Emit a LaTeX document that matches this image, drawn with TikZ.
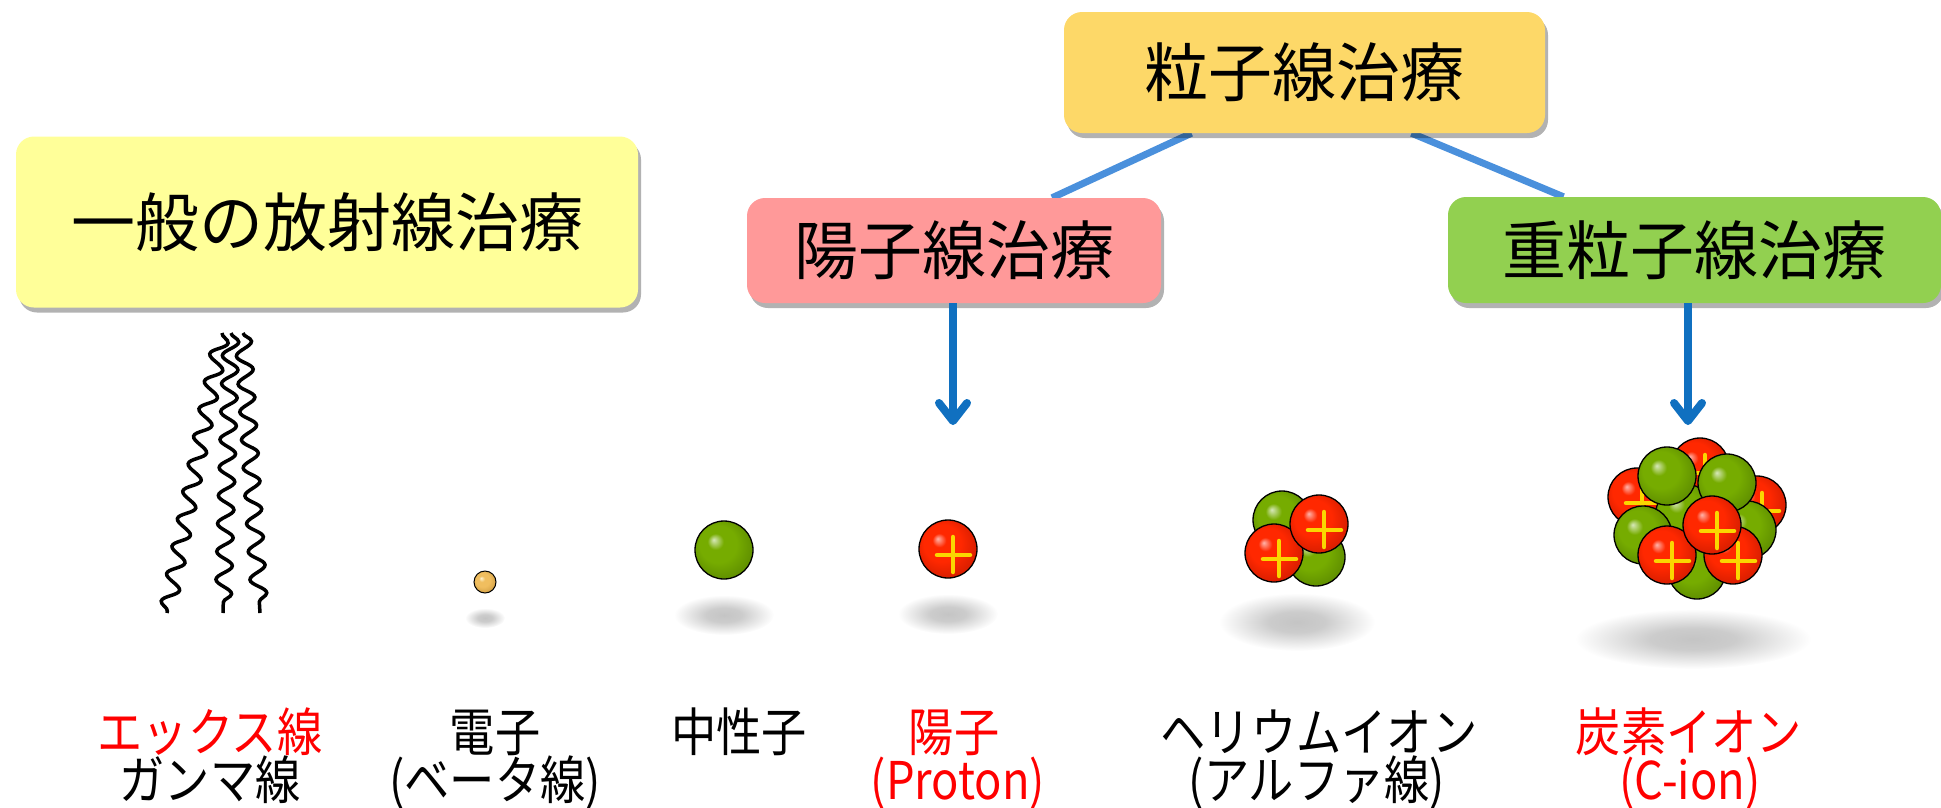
\documentclass[tikz,border=0pt]{standalone}
\usepackage{fontspec}
\newfontfamily\jpfont{Noto Sans CJK JP}
\newfontfamily\jplabel[FakeStretch=0.87]{Noto Sans CJK JP}
\usetikzlibrary{arrows.meta,shadows,backgrounds,decorations.pathmorphing}

\definecolor{plainyellow}{RGB}{255,255,153}
\definecolor{topgold}{RGB}{253,216,104}
\definecolor{protonpink}{RGB}{255,153,153}
\definecolor{heavygreen}{RGB}{146,208,80}
\definecolor{linkblue}{RGB}{74,144,220}
\definecolor{arrowblue}{RGB}{16,112,192}
\definecolor{labelred}{RGB}{255,0,0}
\definecolor{plusyellow}{RGB}{250,215,0}
\definecolor{redhi}{RGB}{255,180,170}
\definecolor{redmid}{RGB}{255,40,0}
\definecolor{redlow}{RGB}{185,22,0}
\definecolor{greenhi}{RGB}{215,232,185}
\definecolor{greenmid}{RGB}{118,172,0}
\definecolor{greenlow}{RGB}{78,120,0}
\definecolor{tanhi}{RGB}{255,244,210}
\definecolor{tanmid}{RGB}{240,190,95}
\definecolor{tanlow}{RGB}{190,138,50}

% balls lit from the upper left (path fills the inner 50bp square)
\pgfdeclareradialshading{redball}{\pgfpoint{-9bp}{9bp}}{%
  color(0bp)=(redhi); color(6bp)=(redmid); color(16bp)=(redmid); color(37bp)=(redlow)}
\pgfdeclareradialshading{greenball}{\pgfpoint{-9bp}{9bp}}{%
  color(0bp)=(greenhi); color(7bp)=(greenmid); color(16bp)=(greenmid); color(37bp)=(greenlow)}
\pgfdeclareradialshading{tanball}{\pgfpoint{-9bp}{9bp}}{%
  color(0bp)=(tanhi); color(7bp)=(tanmid); color(16bp)=(tanmid); color(37bp)=(tanlow)}
% soft shadow on the floor
\pgfdeclareradialshading{floorshadow}{\pgfpoint{0bp}{0bp}}{%
  color(0bp)=(black!23); color(9bp)=(black!20); color(25bp)=(white)}

% nucleons: x, y
\newcommand{\neutronat}[2]{%
  \shadedraw[shading=greenball, draw=black, line width=1.3pt] (#1,#2) circle[radius=29pt];}
\newcommand{\protonat}[2]{%
  \shadedraw[shading=redball, draw=black, line width=1.3pt] (#1,#2) circle[radius=29pt];
  \draw[plusmark] (#1-11,#2+6) -- (#1+22,#2+6) (#1+5,#2-12) -- (#1+5,#2+23);}
% shadow: x, y, x radius, y radius
\newcommand{\floorat}[4]{%
  \shade[shading=floorshadow] (#1,#2) ellipse[x radius=#3pt, y radius=#4pt];}

\begin{document}
\begin{tikzpicture}[x=1pt, y=-1pt,
    treatbox/.style={rounded corners=18pt, inner sep=0pt,
      font=\jpfont\fontsize{64}{64}\selectfont,
      drop shadow={shadow xshift=3pt, shadow yshift=-5pt, opacity=0.3, fill=black}},
    link/.style={draw=linkblue, line width=7pt},
    pointer/.style={draw=arrowblue, line width=8pt,
      -{Straight Barb[length=18pt, width=28pt, round]}},
    wave/.style={line width=3.5pt, decorate,
      decoration={snake, segment length=28pt, amplitude=8pt}},
    lbl/.style={font=\jplabel\fontsize{52}{52}\selectfont, inner sep=0pt, anchor=base},
    hot/.style={text=labelred},
    plusmark/.style={draw=plusyellow, line width=4.5pt, line cap=round}]
    \useasboundingbox (0,0) rectangle (1941,807);

    % Therapie-Kaesten
    \node[treatbox, fill=plainyellow, minimum width=622, minimum height=171]
      (plain) at (327,222) {一般の放射線治療};
    \node[treatbox, fill=topgold, minimum width=481, minimum height=121]
      (particle) at (1304.5,72.5) {粒子線治療};
    \node[treatbox, fill=protonpink, minimum width=414, minimum height=105]
      (proton) at (954,250.5) {陽子線治療};
    \node[treatbox, fill=heavygreen, minimum width=493, minimum height=106]
      (heavy) at (1694.5,250) {重粒子線治療};

    % Verbindungen
    \begin{scope}[on background layer]
      \draw[link] ([xshift=-113pt]particle.south) -- ([xshift=98pt]proton.north);
      \draw[link] ([xshift=107pt]particle.south) -- ([xshift=-131pt]heavy.north);
    \end{scope}
    \coordinate (ptip) at (953,425);
    \coordinate (htip) at (1688,425);
    \draw[pointer] (proton.south -| ptip) -- (ptip);
    \draw[pointer] (heavy.south -| htip) -- (htip);

    % Roentgen- und Gammastrahlen
    \draw[wave] (222,333) -- (167,613);
    \draw[wave] (231,333) -- (223,613);
    \draw[wave] (243,333) -- (260,613);

    % Elektron
    \floorat{485}{618}{20}{10}
    \shadedraw[shading=tanball, draw=black, line width=1pt] (485,582) circle[radius=11pt];

    % Neutron und Proton
    \floorat{724}{615}{50}{20}
    \neutronat{724}{550}
    \floorat{948}{614}{50}{20}
    \protonat{948}{549}

    % Helium
    \floorat{1297}{622}{78}{29}
    \neutronat{1282}{520}
    \neutronat{1316}{557}
    \protonat{1274}{553}
    \protonat{1319}{524}

    % Kohlenstoff
    \floorat{1693}{639}{118}{30}
    \protonat{1700}{467}
    \protonat{1637}{497}
    \protonat{1757}{505}
    \neutronat{1685}{513}
    \neutronat{1697}{570}
    \neutronat{1643}{535}
    \neutronat{1747}{530}
    \neutronat{1667}{476}
    \neutronat{1727}{483}
    \protonat{1667}{555}
    \protonat{1733}{555}
    \protonat{1712}{525}

    % Beschriftungen
    \node[lbl, hot] (xray) at (210,751) {エックス線};
    \node[lbl] (gamma) at (210,799) {ガンマ線};
    \node[lbl] (elec) at (495,751) {電子};
    \node[lbl] (beta) at (495,799) {(ベータ線)};
    \node[lbl] (neut) at (739,751) {中性子};
    \node[lbl, hot] (prot) at (954,751) {陽子};
    \node[lbl, hot] (protname) at (958,799) {(Proton)};
    \node[lbl] (helium) at (1319,751) {ヘリウムイオン};
    \node[lbl] (alpha) at (1317,799) {(アルファ線)};
    \node[lbl, hot] (carbon) at (1689,751) {炭素イオン};
    \node[lbl, hot] (cion) at (1690,799) {(C-ion)};
\end{tikzpicture}
\end{document}
